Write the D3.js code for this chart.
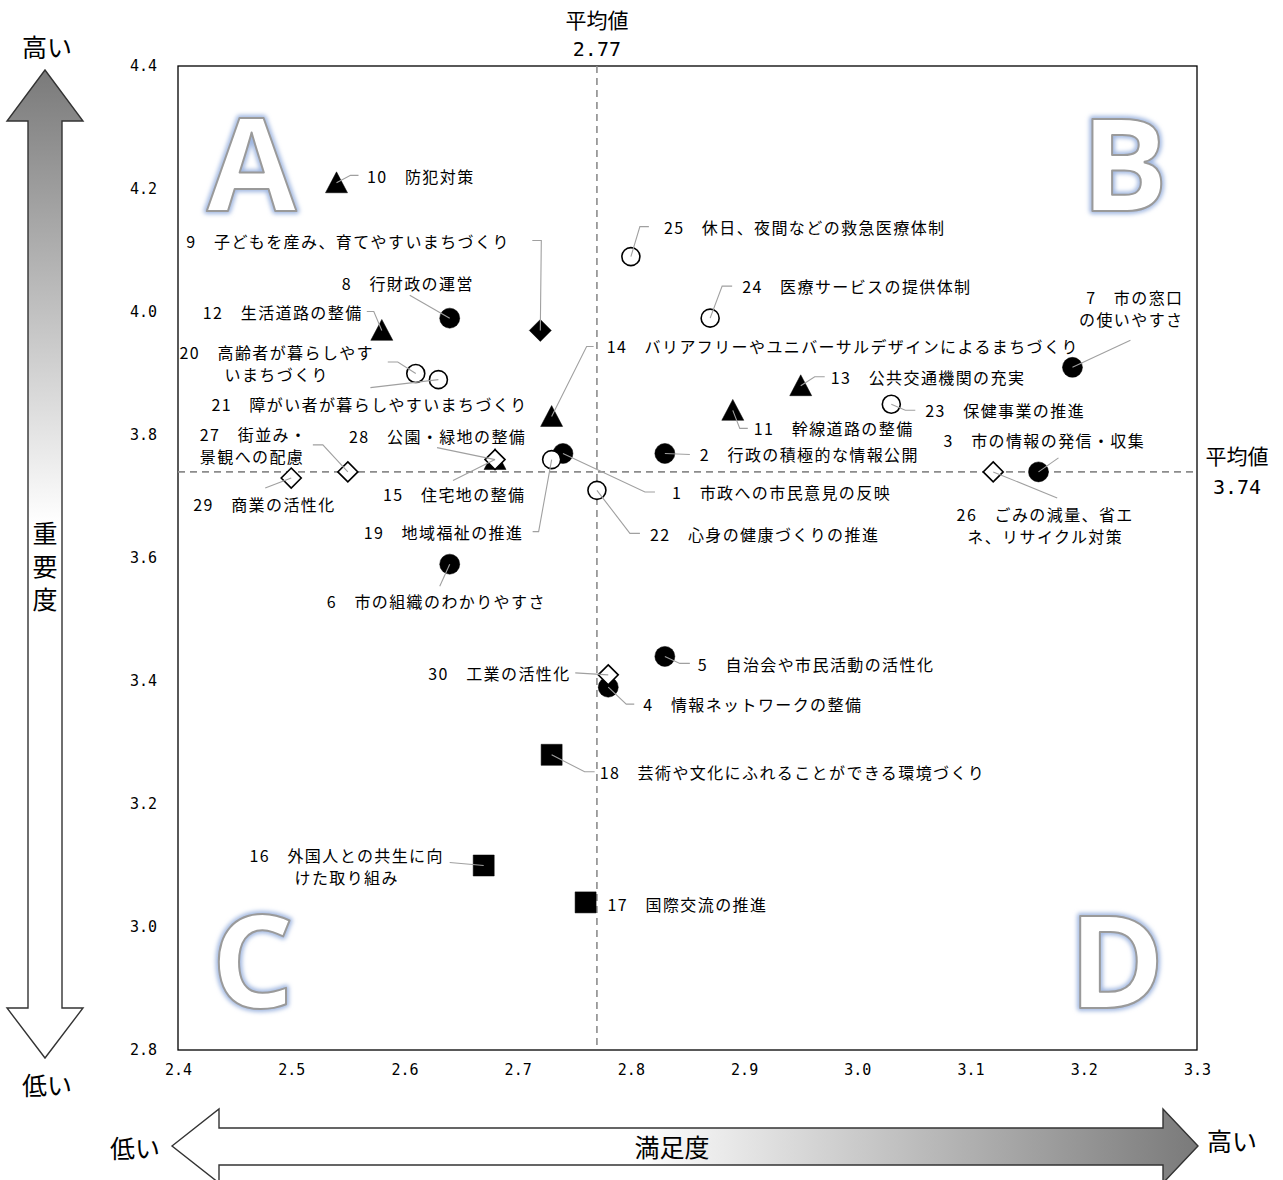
<!DOCTYPE html>
<html>
<head>
<meta charset="utf-8">
<script src="https://cdn.jsdelivr.net/npm/d3@7"></script>
<style>
  html, body { margin: 0; padding: 0; background: #fff; }
  svg { display: block; }
</style>
</head>
<body>
<div id="chart"></div>
<script>
// ---------------- DATA ----------------
const itemIds = [1,2,3,4,5,6,7,8,9,10,11,12,13,14,15,16,17,18,19,20,21,22,23,24,25,26,27,28,29,30];
const itemNames = [
  "市政への市民意見の反映","行政の積極的な情報公開","市の情報の発信・収集","情報ネットワークの整備",
  "自治会や市民活動の活性化","市の組織のわかりやすさ","市の窓口の使いやすさ","行財政の運営",
  "子どもを産み、育てやすいまちづくり","防犯対策","幹線道路の整備","生活道路の整備",
  "公共交通機関の充実","バリアフリーやユニバーサルデザインによるまちづくり","住宅地の整備",
  "外国人との共生に向けた取り組み","国際交流の推進","芸術や文化にふれることができる環境づくり",
  "地域福祉の推進","高齢者が暮らしやすいまちづくり","障がい者が暮らしやすいまちづくり",
  "心身の健康づくりの推進","保健事業の推進","医療サービスの提供体制","休日、夜間などの救急医療体制",
  "ごみの減量、省エネ、リサイクル対策","街並み・景観への配慮","公園・緑地の整備","商業の活性化","工業の活性化"
];
// 満足度 (x)
const satisfaction = [2.74,2.83,3.16,2.78,2.83,2.64,3.19,2.64,2.72,2.54,2.89,2.58,2.95,2.73,2.68,
                      2.67,2.76,2.73,2.73,2.61,2.63,2.77,3.03,2.87,2.80,3.12,2.55,2.68,2.50,2.78];
// 重要度 (y)
const importance   = [3.77,3.77,3.74,3.39,3.44,3.59,3.91,3.99,3.97,4.21,3.84,3.97,3.88,3.83,3.76,
                      3.10,3.04,3.28,3.76,3.90,3.89,3.71,3.85,3.99,4.09,3.74,3.74,3.76,3.73,3.41];
// series group of each item
const seriesOfItem = [0,0,0,0,0,0,0,0,1,2,2,2,2,2,2,3,3,3,4,4,4,4,4,4,4,5,5,5,5,5];
const avgSatisfaction = 2.77;
const avgImportance = 3.74;
const xTicks = [2.4,2.5,2.6,2.7,2.8,2.9,3.0,3.1,3.2,3.3];
const yTicks = [2.8,3.0,3.2,3.4,3.6,3.8,4.0,4.2,4.4];
const quadrants = ["A","B","C","D"];

// ---------------- LAYOUT / STYLE ----------------
const W = 1283, H = 1180;
const plot = {left: 178, right: 1197, top: 66, bottom: 1050};
const seriesStyle = [
  {shape: "circle",   fill: "#000", r: 10},
  {shape: "diamond",  fill: "#000", r: 11},
  {shape: "triangle", fill: "#000", r: 11},
  {shape: "square",   fill: "#000", r: 10.5},
  {shape: "circle",   fill: "#fff", r: 9},
  {shape: "diamond",  fill: "#fff", r: 10}
];
// label placement: offset from the marker (px), line break index, anchor, leader polyline (relative px)
const labelLayout = {
  1: {dx:109, dy:38.5, leader:[[0,0],[82,38.5],[92,38.5]]},
  2: {dx:35, dy:0.5, leader:[[0,0],[25,1]]},
  3: {dx:-95, dy:-32, leader:[[0,0],[20,-14]]},
  4: {dx:35, dy:17, leader:[[0,0],[18,17],[26,17]]},
  5: {dx:33, dy:7.5, leader:[[0,0],[15,7],[25,7]]},
  6: {dx:-123, dy:37, leader:[[0,0],[-10,22]]},
  7: {dx:111, dy:-70, anchor:"end", split:4, leader:[[0,0],[58,-27]]},
  8: {dx:-108, dy:-35, leader:[[0,0],[-40,-23]]},
  9: {dx:-354, dy:-89, leader:[[0,0],[1,-90],[-8,-90]]},
  10:{dx:30.5, dy:-7, leader:[[0,0],[14,-7.5],[22,-7.5]]},
  11:{dx:21, dy:18, leader:[[0,0],[7,18],[15,18]]},
  12:{dx:-179, dy:-18.5, leader:[[0,0],[-8,-19],[-15,-19]]},
  13:{dx:30, dy:-9, leader:[[0,0],[14,-9],[24,-9]]},
  14:{dx:55, dy:-70.5, leader:[[0,0],[35,-70],[42,-70]]},
  15:{dx:-112, dy:34, leader:[[0,0],[-42,21]]},
  16:{dx:-137, dy:-10.5, anchor:"middle", split:9, leader:[[0,0],[-34,-3]]},
  17:{dx:22, dy:1.5, leader:null},
  18:{dx:48, dy:17, leader:[[0,0],[33,17],[43,17]]},
  19:{dx:-188, dy:72, leader:[[0,0],[-13,72],[-19,72]]},
  20:{dx:-139, dy:-21.5, anchor:"middle", split:9, leader:[[0,0],[-18,-11.5],[-28,-11.5]]},
  21:{dx:-227, dy:24, leader:[[0,0],[-68,8]]},
  22:{dx:53, dy:44, leader:[[0,0],[33,43],[43,43]]},
  23:{dx:34, dy:6, leader:[[0,0],[14,6],[24,6]]},
  24:{dx:32, dy:-32, leader:[[0,0],[12,-32],[22,-32]]},
  25:{dx:33, dy:-30, leader:[[0,0],[9,-30],[18,-30]]},
  26:{dx:52, dy:42, anchor:"middle", split:8, leader:[[0,0],[64,26]]},
  27:{dx:-148, dy:-38, split:4, leader:[[0,0],[-25,-27],[-35,-27]]},
  28:{dx:-146, dy:-24, leader:[[0,0],[-58,-12]]},
  29:{dx:-98, dy:26, leader:[[0,0],[-26,10]]},
  30:{dx:-180, dy:-2, leader:[[0,0],[-33,-2]]}
};

const svg = d3.select("#chart").append("svg").attr("width", W).attr("height", H);
const defs = svg.append("defs");

// gradients
const vg = defs.append("linearGradient").attr("id","vgrad")
  .attr("gradientUnits","userSpaceOnUse").attr("x1",0).attr("y1",70).attr("x2",0).attr("y2",1058);
vg.append("stop").attr("offset","0").attr("stop-color","#7a7a7a");
vg.append("stop").attr("offset","0.46").attr("stop-color","#ffffff");
vg.append("stop").attr("offset","1").attr("stop-color","#ffffff");
const hg = defs.append("linearGradient").attr("id","hgrad")
  .attr("gradientUnits","userSpaceOnUse").attr("x1",172).attr("y1",0).attr("x2",1197).attr("y2",0);
hg.append("stop").attr("offset","0").attr("stop-color","#ffffff");
hg.append("stop").attr("offset","0.45").attr("stop-color","#ffffff");
hg.append("stop").attr("offset","1").attr("stop-color","#7a7a7a");

const glow = defs.append("filter").attr("id","glow").attr("x","-20%").attr("y","-20%").attr("width","140%").attr("height","140%");
glow.append("feGaussianBlur").attr("stdDeviation", 2.2);

// scales
const x = d3.scaleLinear().domain([2.4, 3.3]).range([plot.left, plot.right]);
const y = d3.scaleLinear().domain([2.8, 4.4]).range([plot.bottom, plot.top]);

// quadrant letters
const qPos = [[2.465, 4.165], [3.236, 4.165], [2.466, 2.868], [3.229, 2.868]];
const qg = svg.append("g");
quadrants.forEach((q, i) => {
  const px = x(qPos[i][0]), py = y(qPos[i][1]);
  qg.append("text").attr("x", px).attr("y", py).attr("text-anchor","middle")
    .attr("font-family","'Open Sans', 'Liberation Sans', sans-serif").attr("font-weight","bold")
    .attr("font-size", 130).attr("fill","none").attr("stroke","#9fb6e0").attr("stroke-width",6)
    .attr("stroke-linejoin","round").attr("filter","url(#glow)").text(q);
  qg.append("text").attr("x", px).attr("y", py).attr("text-anchor","middle")
    .attr("font-family","'Open Sans', 'Liberation Sans', sans-serif").attr("font-weight","bold")
    .attr("font-size", 130).attr("fill","#fff").attr("stroke","#9a9a9a").attr("stroke-width",2)
    .attr("stroke-linejoin","round").text(q);
});

// plot border
svg.append("rect").attr("x", plot.left).attr("y", plot.top)
  .attr("width", plot.right - plot.left).attr("height", plot.bottom - plot.top)
  .attr("fill","none").attr("stroke","#000").attr("stroke-width",1.3);

// average lines
svg.append("line").attr("x1", x(avgSatisfaction)).attr("x2", x(avgSatisfaction))
  .attr("y1", plot.top).attr("y2", plot.bottom)
  .attr("stroke","#8c8c8c").attr("stroke-width",1.6).attr("stroke-dasharray","7,5");
svg.append("line").attr("x1", plot.left).attr("x2", plot.right)
  .attr("y1", y(avgImportance)).attr("y2", y(avgImportance))
  .attr("stroke","#8c8c8c").attr("stroke-width",1.6).attr("stroke-dasharray","7,5");

// axes (tick labels only)
const monoFont = "'DejaVu Sans Mono', 'Liberation Mono', monospace";
const xAxis = d3.axisBottom(x).tickValues(xTicks).tickFormat(d3.format(".1f")).tickSize(0).tickPadding(14);
const gx = svg.append("g").attr("transform", `translate(0,${plot.bottom})`).call(xAxis);
gx.select(".domain").remove();
gx.selectAll("text").attr("font-family", monoFont).attr("font-size", 15).attr("fill","#000");
const yAxis = d3.axisLeft(y).tickValues(yTicks).tickFormat(d3.format(".1f")).tickSize(0).tickPadding(21);
const gy = svg.append("g").attr("transform", `translate(${plot.left},0)`).call(yAxis);
gy.select(".domain").remove();
gy.selectAll("text").attr("font-family", monoFont).attr("font-size", 15).attr("fill","#000");

// average labels
const jp = "'Noto Sans CJK JP', 'Noto Sans', sans-serif";
svg.append("text").attr("x", x(avgSatisfaction)).attr("y", 19).attr("text-anchor","middle")
  .attr("dominant-baseline","central").attr("font-family", jp).attr("font-size", 21).text("平均値");
svg.append("text").attr("x", x(avgSatisfaction)).attr("y", 49).attr("text-anchor","middle")
  .attr("dominant-baseline","central").attr("font-family", monoFont).attr("font-size", 20)
  .text(avgSatisfaction.toFixed(2));
svg.append("text").attr("x", 1237).attr("y", 455).attr("text-anchor","middle")
  .attr("dominant-baseline","central").attr("font-family", jp).attr("font-size", 21).text("平均値");
svg.append("text").attr("x", 1237).attr("y", 487).attr("text-anchor","middle")
  .attr("dominant-baseline","central").attr("font-family", monoFont).attr("font-size", 20)
  .text(avgImportance.toFixed(2));

// markers
function markerPath(shape, r) {
  if (shape === "circle") return null;
  if (shape === "diamond") return `M0,${-r}L${r},0L0,${r}L${-r},0Z`;
  if (shape === "square") return `M${-r},${-r}H${r}V${r}H${-r}Z`;
  if (shape === "triangle") return `M0,${-r}L${r},${r*0.9}L${-r},${r*0.9}Z`;
}
const items = itemIds.map((id, i) => ({
  id, name: itemNames[i], sx: satisfaction[i], iy: importance[i], s: seriesStyle[seriesOfItem[i]]
}));
const mg = svg.append("g");
items.forEach(d => {
  const px = x(d.sx), py = y(d.iy);
  const open = d.s.fill === "#fff";
  if (d.s.shape === "circle") {
    mg.append("circle").attr("cx", px).attr("cy", py).attr("r", d.s.r)
      .attr("fill", d.s.fill).attr("stroke","#000").attr("stroke-width", open ? 1.6 : 0.5);
  } else {
    mg.append("path").attr("d", markerPath(d.s.shape, d.s.r))
      .attr("transform", `translate(${px},${py})`)
      .attr("fill", d.s.fill).attr("stroke","#000").attr("stroke-width", open ? 1.6 : 0.5)
      .attr("stroke-linejoin","miter");
  }
});

// leaders + labels
const lg = svg.append("g");
const line = d3.line();
items.forEach(d => {
  const L = labelLayout[d.id];
  const px = x(d.sx), py = y(d.iy);
  if (L.leader) {
    lg.append("path").attr("d", line(L.leader.map(p => [px + p[0], py + p[1]])))
      .attr("fill","none").attr("stroke","#a0a0a0").attr("stroke-width",1.1);
  }
  const full = d.id + "　" + d.name;
  const numLen = String(d.id).length + 1;
  const lines = L.split ? [full.slice(0, numLen + L.split), full.slice(numLen + L.split)] : [full];
  lines.forEach((t, k) => {
    lg.append("text").attr("x", px + L.dx).attr("y", py + L.dy + k * 22)
      .attr("text-anchor", L.anchor || "start").attr("dominant-baseline","central")
      .attr("font-family", jp).attr("font-size", 16).attr("letter-spacing", "1.4px")
      .attr("fill","#000").text(t);
  });
});

// vertical arrow (重要度)
const va = svg.append("g");
va.append("path")
  .attr("d", "M45,70 L83,121 L62,121 L62,1008 L83,1008 L45,1058 L7,1008 L28,1008 L28,121 L7,121 Z")
  .attr("fill","url(#vgrad)").attr("stroke","#333").attr("stroke-width",1.4).attr("stroke-linejoin","miter");
["重","要","度"].forEach((c, i) => {
  va.append("text").attr("x", 45).attr("y", 532 + i * 33).attr("text-anchor","middle")
    .attr("dominant-baseline","central").attr("font-family", jp).attr("font-size", 25).text(c);
});
va.append("text").attr("x", 47).attr("y", 46).attr("text-anchor","middle")
  .attr("dominant-baseline","central").attr("font-family", jp).attr("font-size", 25).text("高い");
va.append("text").attr("x", 47).attr("y", 1084).attr("text-anchor","middle")
  .attr("dominant-baseline","central").attr("font-family", jp).attr("font-size", 25).text("低い");

// horizontal arrow (満足度)
const ha = svg.append("g");
ha.append("path")
  .attr("d", "M172,1146 L219,1109 L219,1128 L1163,1128 L1163,1109 L1198,1146 L1163,1183 L1163,1165 L219,1165 L219,1183 Z")
  .attr("fill","url(#hgrad)").attr("stroke","#333").attr("stroke-width",1.4);
ha.append("text").attr("x", 672).attr("y", 1146).attr("text-anchor","middle")
  .attr("dominant-baseline","central").attr("font-family", jp).attr("font-size", 25).text("満足度");
ha.append("text").attr("x", 135).attr("y", 1147).attr("text-anchor","middle")
  .attr("dominant-baseline","central").attr("font-family", jp).attr("font-size", 25).text("低い");
ha.append("text").attr("x", 1232).attr("y", 1140).attr("text-anchor","middle")
  .attr("dominant-baseline","central").attr("font-family", jp).attr("font-size", 25).text("高い");
</script>
</body>
</html>
